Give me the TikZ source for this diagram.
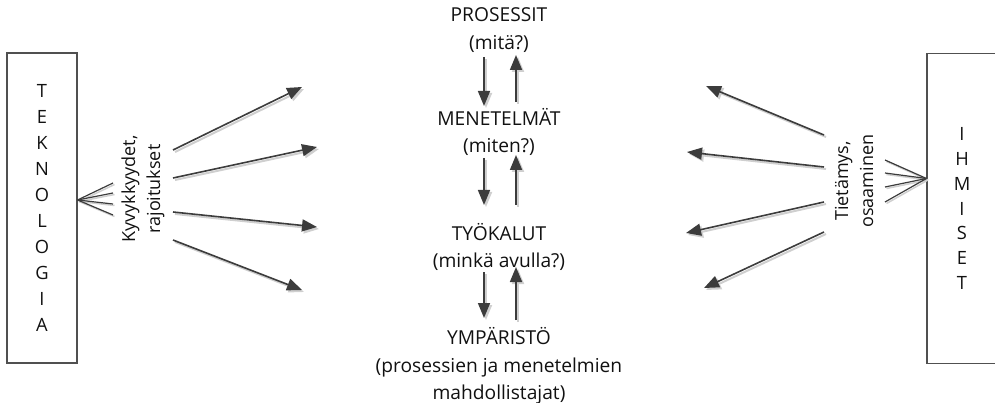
\documentclass[tikz,border=0pt]{standalone}
\usepackage{fontspec}
\setmainfont{Open Sans}
\usetikzlibrary{arrows.meta}
\definecolor{ink}{HTML}{111111}
\definecolor{linegray}{HTML}{3C3C3C}
\definecolor{shade}{HTML}{CFCFCF}
\definecolor{framegray}{HTML}{505050}
\tikzset{
  label/.style={text=ink, font=\fontsize{19.2}{27.5}\selectfont, align=center, inner sep=0pt},
  sidelabel/.style={text=ink, font=\fontsize{18}{25}\selectfont, align=center, inner sep=0pt, rotate=90},
  frame/.style={draw=framegray, line width=1.1pt, minimum width=70pt, minimum height=310pt,
    text=ink, font=\fontsize{18.3}{25.9}\selectfont, align=center, inner sep=0pt},
  arr/.style={draw=linegray, line width=1.6pt,
    -{Triangle[length=15pt,width=12pt]},
    preaction={draw=shade, line width=2pt, -{Triangle[length=15pt,width=12pt]},
      transform canvas={xshift=2pt,yshift=-2pt}}},
  fan/.style={draw=linegray, line width=1.2pt,
    preaction={draw=shade, line width=1.5pt, transform canvas={xshift=1.5pt,yshift=-1.5pt}}},
}
\begin{document}
\begin{tikzpicture}[x=1pt,y=-1pt]
\useasboundingbox (0,0) rectangle (995,403);

% side frames
\node[frame] (teknologia) at (42,208) {T\\E\\K\\N\\O\\L\\O\\G\\I\\A};
\node[frame, font=\fontsize{18.3}{24.7}\selectfont] (ihmiset) at (962,208.5) {I\\H\\M\\I\\S\\E\\T};

% central column
\node[label] (prosessit)  at (499,30)  {PROSESSIT\\(mitä?)};
\node[label] (menetelmat) at (499,132) {MENETELMÄT\\(miten?)};
\node[label] (tyokalut)   at (499,247) {TYÖKALUT\\(minkä avulla?)};
\node[label] (ymparisto)  at (499,366) {YMPÄRISTÖ\\(prosessien ja menetelmien\\mahdollistajat)};

% rotated side labels
\node[sidelabel] (kyvyt) at (143,189) {Kyvykkyydet,\\rajoitukset};
\node[sidelabel] (tietamys) at (854,181) {Tietämys,\\osaaminen};

% vertical arrows between the levels
\coordinate (dl) at (484,0);
\coordinate (ul) at (516,0);
\draw[arr] (dl |- 0,57)  -- (dl |- 0,106);
\draw[arr] (ul |- 0,102) -- (ul |- 0,55);
\draw[arr] (dl |- 0,158) -- (dl |- 0,205);
\draw[arr] (ul |- 0,205) -- (ul |- 0,155);
\draw[arr] (dl |- 0,272) -- (dl |- 0,318);
\draw[arr] (ul |- 0,320) -- (ul |- 0,267);

% left fan
\coordinate (tk) at ([yshift=8pt]teknologia.east);
\coordinate (tf1) at (113,183);
\coordinate (tf2) at (113,193);
\coordinate (tf3) at (113,204);
\coordinate (tf4) at (113,215);
\foreach \i in {1,...,4} \draw[fan] (tk) -- (tf\i);

% right fan
\coordinate (ih) at ([yshift=30pt]ihmiset.west);
\coordinate (if1) at (885,160);
\coordinate (if2) at (885,173);
\coordinate (if3) at (885,187);
\coordinate (if4) at (885,202);
\foreach \i in {1,...,4} \draw[fan] (ih) -- (if\i);

% left arrows
\coordinate (ls1) at (173,150); \coordinate (lt1) at (302,87);
\coordinate (ls2) at (173,178); \coordinate (lt2) at (317,147);
\coordinate (ls3) at (173,212); \coordinate (lt3) at (317,227);
\coordinate (ls4) at (173,240); \coordinate (lt4) at (302,290);
\foreach \i in {1,...,4} \draw[arr] (ls\i) -- (lt\i);

% right arrows
\coordinate (rs1) at (824,135); \coordinate (rt1) at (706,86);
\coordinate (rs2) at (824,167); \coordinate (rt2) at (687,152);
\coordinate (rs3) at (824,202); \coordinate (rt3) at (686,233);
\coordinate (rs4) at (824,232); \coordinate (rt4) at (704,288);
\foreach \i in {1,...,4} \draw[arr] (rs\i) -- (rt\i);
\end{tikzpicture}
\end{document}
